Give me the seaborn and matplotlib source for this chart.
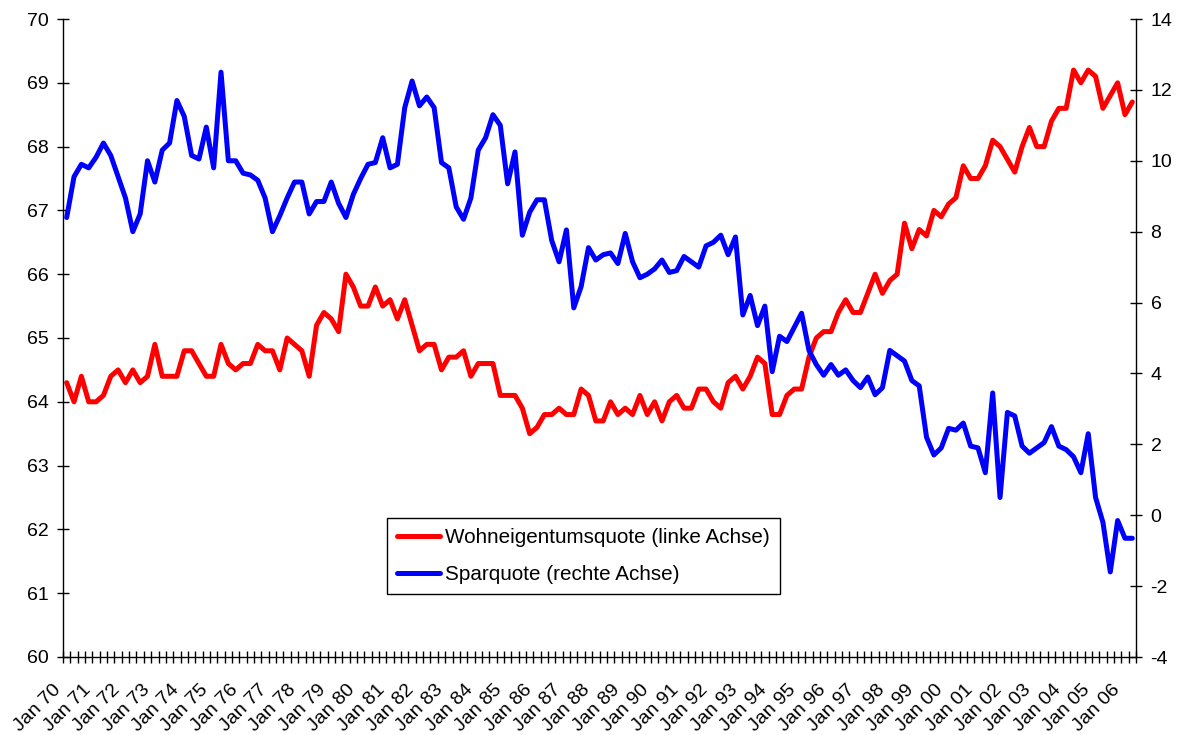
import numpy as np
import pandas as pd
import seaborn as sns
import matplotlib.pyplot as plt
import matplotlib.transforms as mtransforms

# quarterly values, Q1 1970 - Q2 2006
wohneigentum = [
    64.3, 64.0, 64.4, 64.0, 64.0, 64.1, 64.4, 64.5, 64.3, 64.5,
    64.3, 64.4, 64.9, 64.4, 64.4, 64.4, 64.8, 64.8, 64.6, 64.4,
    64.4, 64.9, 64.6, 64.5, 64.6, 64.6, 64.9, 64.8, 64.8, 64.5,
    65.0, 64.9, 64.8, 64.4, 65.2, 65.4, 65.3, 65.1, 66.0, 65.8,
    65.5, 65.5, 65.8, 65.5, 65.6, 65.3, 65.6, 65.2, 64.8, 64.9,
    64.9, 64.5, 64.7, 64.7, 64.8, 64.4, 64.6, 64.6, 64.6, 64.1,
    64.1, 64.1, 63.9, 63.5, 63.6, 63.8, 63.8, 63.9, 63.8, 63.8,
    64.2, 64.1, 63.7, 63.7, 64.0, 63.8, 63.9, 63.8, 64.1, 63.8,
    64.0, 63.7, 64.0, 64.1, 63.9, 63.9, 64.2, 64.2, 64.0, 63.9,
    64.3, 64.4, 64.2, 64.4, 64.7, 64.6, 63.8, 63.8, 64.1, 64.2,
    64.2, 64.7, 65.0, 65.1, 65.1, 65.4, 65.6, 65.4, 65.4, 65.7,
    66.0, 65.7, 65.9, 66.0, 66.8, 66.4, 66.7, 66.6, 67.0, 66.9,
    67.1, 67.2, 67.7, 67.5, 67.5, 67.7, 68.1, 68.0, 67.8, 67.6,
    68.0, 68.3, 68.0, 68.0, 68.4, 68.6, 68.6, 69.2, 69.0, 69.2,
    69.1, 68.6, 68.8, 69.0, 68.5, 68.7,
]
sparquote = [
    8.4, 9.55, 9.9, 9.8, 10.1, 10.5, 10.15, 9.55, 8.95, 8.0,
    8.5, 10.0, 9.4, 10.3, 10.5, 11.7, 11.25, 10.15, 10.05, 10.95,
    9.8, 12.5, 10.0, 10.0, 9.65, 9.6, 9.45, 8.95, 8.0, 8.45,
    8.95, 9.4, 9.4, 8.5, 8.85, 8.85, 9.4, 8.8, 8.4, 9.05,
    9.5, 9.9, 9.95, 10.65, 9.8, 9.9, 11.5, 12.25, 11.55, 11.8,
    11.5, 9.95, 9.8, 8.7, 8.35, 8.95, 10.3, 10.65, 11.3, 11.0,
    9.35, 10.25, 7.9, 8.55, 8.9, 8.9, 7.75, 7.15, 8.05, 5.85,
    6.45, 7.55, 7.2, 7.35, 7.4, 7.1, 7.95, 7.15, 6.7, 6.8,
    6.95, 7.2, 6.85, 6.9, 7.3, 7.15, 7.0, 7.6, 7.7, 7.9,
    7.35, 7.85, 5.65, 6.2, 5.35, 5.9, 4.05, 5.05, 4.9, 5.3,
    5.7, 4.65, 4.25, 3.95, 4.25, 3.95, 4.1, 3.8, 3.6, 3.9,
    3.4, 3.6, 4.65, 4.5, 4.35, 3.8, 3.65, 2.2, 1.7, 1.9,
    2.45, 2.4, 2.6, 1.95, 1.9, 1.2, 3.45, 0.5, 2.9, 2.8,
    1.95, 1.75, 1.9, 2.05, 2.5, 1.95, 1.85, 1.65, 1.2, 2.3,
    0.5, -0.2, -1.6, -0.15, -0.65, -0.65,
]
years = list(range(1970, 2007))
tick_labels = [f"Jan {y % 100:02d}" for y in years]
left_ticks = list(range(60, 71))
right_ticks = list(range(-4, 15, 2))

n = len(wohneigentum)
df = pd.DataFrame({"quartal": np.arange(n), "wohn": wohneigentum, "spar": sparquote})

sns.set_style("white", rc={"axes.edgecolor": "black", "xtick.color": "black",
                           "ytick.color": "black", "text.color": "black"})
plt.rcParams["font.family"] = ["Liberation Sans", "DejaVu Sans"]
plt.rcParams["axes.unicode_minus"] = False

W, H = 1183, 735
fig = plt.figure(figsize=(W / 100, H / 100), dpi=100)
ax = fig.add_axes([63 / W, 1 - 657 / H, (1136 - 63) / W, (657 - 19) / H])
ax2 = ax.twinx()

sns.lineplot(data=df, x="quartal", y="wohn", ax=ax, color="#ff0000", lw=3.6, legend=False)
sns.lineplot(data=df, x="quartal", y="spar", ax=ax2, color="#0000ff", lw=3.6, legend=False)

ax.set_xlim(-0.5, n - 0.5)
ax.set_ylim(60, 70)
ax.set_yticks(left_ticks)
ax2.set_ylim(-4, 14)
ax2.set_yticks(right_ticks)

ax.set_xticks(np.arange(0, n, 4))
ax.set_xticklabels(tick_labels, rotation=45, ha="right", va="center", rotation_mode="anchor")
ax.set_xticks(np.arange(-0.5, n, 1), minor=True)
ax.tick_params(axis="x", which="major", length=0, labelsize=14, pad=22)
ax.tick_params(axis="x", which="minor", bottom=True, direction="inout", length=9, width=1)
ax.tick_params(axis="y", left=True, direction="inout", length=9, width=1, labelsize=14, pad=6)
ax2.tick_params(axis="y", right=True, direction="inout", length=9, width=1, labelsize=14, pad=6)

# shift the rotated labels a bit to the left, like the original
shift = mtransforms.ScaledTranslation(-0.08, 0, fig.dpi_scale_trans)
for lab in ax.get_xticklabels():
    lab.set_transform(lab.get_transform() + shift)

for a in (ax, ax2):
    a.set_xlabel("")
    a.set_ylabel("")
    a.spines["top"].set_visible(False)
    for s in a.spines.values():
        s.set_linewidth(1)
ax.spines["right"].set_visible(False)
ax2.spines["left"].set_visible(False)
ax2.spines["bottom"].set_visible(False)

handles = [ax.get_lines()[0], ax2.get_lines()[0]]
labels = ["Wohneigentumsquote (linke Achse)", "Sparquote (rechte Achse)"]
leg = fig.legend(handles, labels, loc="upper left", bbox_to_anchor=(387 / W, 1 - 518 / H),
                 borderaxespad=0, fancybox=False, edgecolor="black", framealpha=1,
                 fontsize=14.9, handlelength=2.05, handletextpad=0.25,
                 labelspacing=0.85, borderpad=0.5)
leg.get_frame().set_linewidth(1)

fig.savefig("out.png", dpi=100)
